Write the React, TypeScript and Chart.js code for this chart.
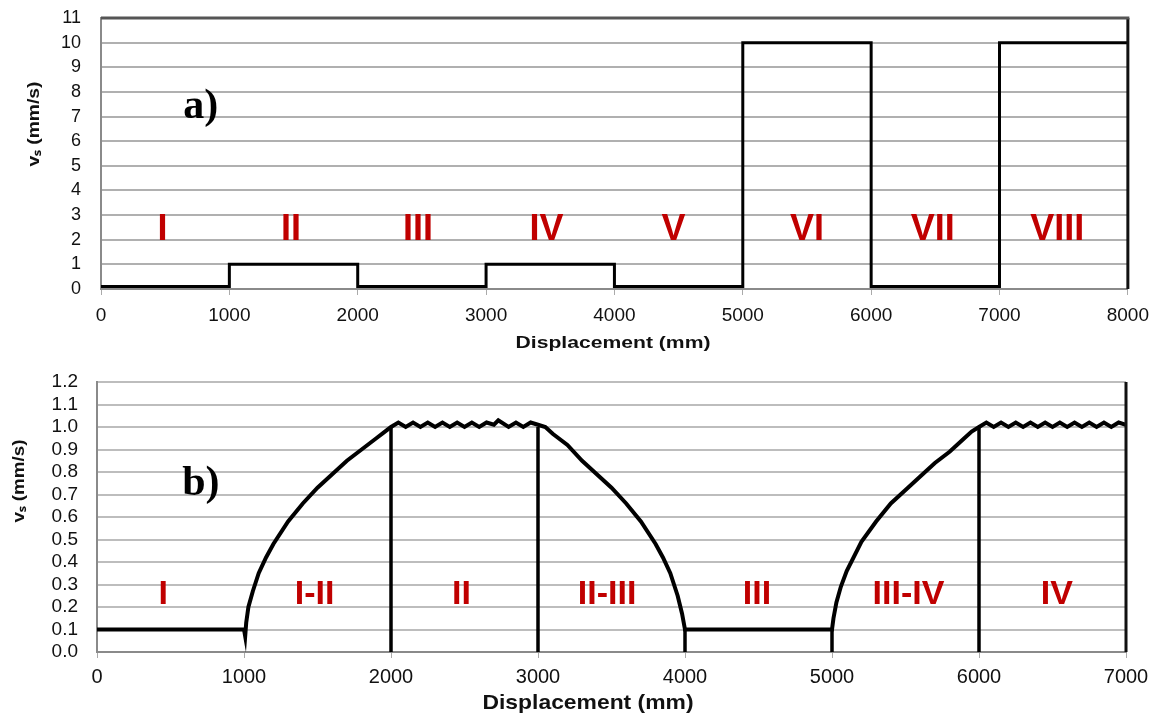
import React, { useEffect, useRef } from "react";
import { Chart, registerables } from "chart.js";
Chart.register(...registerables);

// ---------- Chart a) data ----------
const aEdges = [0, 1000, 2000, 3000, 4000, 5000, 6000, 7000, 8000];
const aLevels = [0.1, 1, 0.1, 1, 0.1, 10, 0.1, 10];
const aRegionLabels = ["I", "II", "III", "IV", "V", "VI", "VII", "VIII"];
const aRegionLabelX = [480, 1480, 2470, 3470, 4460, 5500, 6480, 7450];
const aRegionLabelY = 2.0;
const aPanelTag = "a)";
const aPanelTagX = 640;
const aPanelTagY = 6.95;

// ---------- Chart b) data ----------
const bX = [
  0, 500, 1000, 1008, 1015, 1030, 1060, 1100, 1150, 1200, 1300, 1400, 1500, 1600, 1700, 1800, 1900, 1950, 2000,
  2050, 2100, 2150, 2200, 2250, 2300, 2350, 2400, 2450, 2500, 2550, 2600, 2650, 2700, 2730, 2800, 2850, 2900, 2950, 3000,
  3050, 3100, 3200, 3300, 3400, 3500, 3600, 3700, 3800, 3850, 3900, 3950, 3980, 4000,
  4500, 5000, 5010, 5030, 5060, 5100, 5200, 5300, 5400, 5500, 5600, 5700, 5800, 5900, 5950, 6000,
  6050, 6100, 6150, 6200, 6250, 6300, 6350, 6400, 6450, 6500, 6550, 6600, 6650, 6700, 6750, 6800, 6850, 6900, 6950, 7000,
];
const bY = [
  0.1, 0.1, 0.1, 0.07, 0.13, 0.2, 0.27, 0.35, 0.42, 0.48, 0.58, 0.66, 0.73, 0.79, 0.85, 0.9, 0.95, 0.975, 1.0,
  1.02, 1.0, 1.02, 1.0, 1.02, 1.0, 1.02, 1.0, 1.02, 1.0, 1.02, 1.0, 1.02, 1.01, 1.03, 1.0, 1.02, 1.0, 1.02, 1.01,
  1.0, 0.97, 0.92, 0.85, 0.79, 0.73, 0.66, 0.58, 0.48, 0.42, 0.35, 0.25, 0.17, 0.1,
  0.1, 0.1, 0.15, 0.22, 0.29, 0.36, 0.49, 0.58, 0.66, 0.72, 0.78, 0.84, 0.89, 0.95, 0.98, 1.0,
  1.02, 1.0, 1.02, 1.0, 1.02, 1.0, 1.02, 1.0, 1.02, 1.0, 1.02, 1.0, 1.02, 1.0, 1.02, 1.0, 1.02, 1.0, 1.02, 1.01,
];
const bBoundaryX = [2000, 3000, 4000, 5000, 6000];
const bBoundaryTop = [1.0, 1.0, 0.1, 0.1, 1.0];
const bRegionLabels = ["I", "I-II", "II", "II-III", "III", "III-IV", "IV"];
const bRegionLabelX = [450, 1480, 2480, 3470, 4490, 5520, 6530];
const bRegionLabelY = 0.215;
const bPanelTag = "b)";
const bPanelTagX = 580;
const bPanelTagY = 0.7;

const xTitle = "Displacement (mm)";
const yTitle = "vₛ (mm/s)";

const SANS = "'Liberation Sans', Arial, Helvetica, sans-serif";
const SERIF = "'Liberation Serif', 'Times New Roman', serif";

function drawStretched(ctx: CanvasRenderingContext2D, text: string, cx: number, cy: number, font: string, targetW: number, rotate: boolean) {
  ctx.save();
  ctx.font = font;
  const w = ctx.measureText(text).width;
  const sx = targetW / w;
  ctx.translate(cx, cy);
  if (rotate) ctx.rotate(-Math.PI / 2);
  ctx.scale(sx, 1);
  ctx.fillStyle = "#111";
  ctx.textAlign = "center";
  ctx.textBaseline = "middle";
  ctx.fillText(text, 0, 0);
  ctx.restore();
}

function makeDecor(opts: {
  labels: string[]; labelX: number[]; labelY: number; labelFont: string;
  tag: string; tagX: number; tagY: number; tagFont: string;
  xTitleFont: string; xTitleW: number; xTitleCx: number; xTitleCy: number;
  yTitleFont: string; yTitleW: number; yTitleCx: number; yTitleCy: number;
  frameTop: boolean;
}) {
  return {
    id: "decor" + opts.tag,
    afterDatasetsDraw(chart: any) {
      const ctx = chart.ctx as CanvasRenderingContext2D;
      const xs = chart.scales.x;
      const ys = chart.scales.y;
      const area = chart.chartArea;
      ctx.save();
      ctx.strokeStyle = "#111";
      ctx.lineWidth = 3;
      ctx.beginPath();
      ctx.moveTo(area.right, area.top);
      ctx.lineTo(area.right, area.bottom);
      ctx.stroke();
      if (opts.frameTop) {
        ctx.strokeStyle = "#555";
        ctx.lineWidth = 3;
        ctx.beginPath();
        ctx.moveTo(area.left, area.top);
        ctx.lineTo(area.right + 1.5, area.top);
        ctx.stroke();
      }
      ctx.fillStyle = "#C00000";
      ctx.font = opts.labelFont;
      ctx.textAlign = "center";
      ctx.textBaseline = "alphabetic";
      opts.labels.forEach((t, i) => {
        ctx.fillText(t, xs.getPixelForValue(opts.labelX[i]), ys.getPixelForValue(opts.labelY));
      });
      ctx.fillStyle = "#000";
      ctx.font = opts.tagFont;
      ctx.textAlign = "left";
      ctx.fillText(opts.tag, xs.getPixelForValue(opts.tagX), ys.getPixelForValue(opts.tagY));
      ctx.restore();
      drawStretched(ctx, xTitle, opts.xTitleCx, opts.xTitleCy, opts.xTitleFont, opts.xTitleW, false);
      drawStretched(ctx, yTitle, opts.yTitleCx, opts.yTitleCy, opts.yTitleFont, opts.yTitleW, true);
    },
  };
}

const plainNum = (v: any) => String(Math.round(Number(v)));

function ChartA() {
  const ref = useRef<HTMLCanvasElement>(null);
  useEffect(() => {
    const pts: { x: number; y: number }[] = [];
    aLevels.forEach((lv, i) => {
      pts.push({ x: aEdges[i], y: lv });
      pts.push({ x: aEdges[i + 1], y: lv });
    });
    const chart = new Chart(ref.current!, {
      type: "scatter",
      data: {
        datasets: [
          { data: pts, showLine: true, borderColor: "#000", borderWidth: 3, pointRadius: 0, tension: 0 } as any,
        ],
      },
      options: {
        responsive: false,
        devicePixelRatio: 1,
        animation: false,
        layout: { padding: { top: 18, right: 30, left: 0, bottom: 0 } },
        plugins: { legend: { display: false }, tooltip: { enabled: false } },
        scales: {
          x: {
            type: "linear", min: 0, max: 8000,
            ticks: { stepSize: 1000, font: { family: SANS, size: 19 }, color: "#111", padding: 9, maxRotation: 0, autoSkip: false, callback: plainNum },
            grid: { drawOnChartArea: false, drawTicks: true, tickLength: 6, tickColor: "#aaa", lineWidth: 1 },
            border: { color: "#8a8a8a", width: 2 },
            afterFit: (s: any) => { s.height = 71; },
          },
          y: {
            min: 0, max: 11,
            ticks: { stepSize: 1, font: { family: SANS, size: 18 }, color: "#111", padding: 20, autoSkip: false, callback: plainNum },
            grid: { color: "#b0b0b0", lineWidth: 2, drawTicks: false },
            border: { color: "#8a8a8a", width: 2 },
            afterFit: (s: any) => { s.width = 101; s.paddingTop = 0; s.paddingBottom = 0; },
          },
        },
      } as any,
      plugins: [
        makeDecor({
          labels: aRegionLabels, labelX: aRegionLabelX, labelY: aRegionLabelY,
          labelFont: `bold 36px ${SANS}`,
          tag: aPanelTag, tagX: aPanelTagX, tagY: aPanelTagY, tagFont: `bold 42px ${SERIF}`,
          xTitleFont: `bold 17px ${SANS}`, xTitleW: 195, xTitleCx: 613, xTitleCy: 343,
          yTitleFont: `bold 17px ${SANS}`, yTitleW: 85, yTitleCx: 34, yTitleCy: 124,
          frameTop: true,
        }),
      ],
    });
    return () => chart.destroy();
  }, []);
  return <canvas ref={ref} width={1158} height={360} style={{ display: "block" }} />;
}

function ChartB() {
  const ref = useRef<HTMLCanvasElement>(null);
  useEffect(() => {
    const main = bX.map((x, i) => ({ x, y: bY[i] }));
    const bounds = bBoundaryX.map((x, i) => ({
      data: [{ x, y: 0 }, { x, y: bBoundaryTop[i] }],
      showLine: true, borderColor: "#000", borderWidth: 3.5, pointRadius: 0,
    }));
    const chart = new Chart(ref.current!, {
      type: "scatter",
      data: {
        datasets: [
          ...bounds,
          { data: main, showLine: true, borderColor: "#000", borderWidth: 4, pointRadius: 0, tension: 0 } as any,
        ] as any,
      },
      options: {
        responsive: false,
        devicePixelRatio: 1,
        animation: false,
        layout: { padding: { top: 22, right: 32, left: 0, bottom: 0 } },
        plugins: { legend: { display: false }, tooltip: { enabled: false } },
        scales: {
          x: {
            type: "linear", min: 0, max: 7000,
            ticks: { stepSize: 1000, font: { family: SANS, size: 20 }, color: "#111", padding: 7, maxRotation: 0, autoSkip: false, callback: plainNum },
            grid: { drawOnChartArea: false, drawTicks: true, tickLength: 6, tickColor: "#aaa", lineWidth: 1 },
            border: { color: "#8a8a8a", width: 2 },
            afterFit: (s: any) => { s.height = 66; },
          },
          y: {
            min: 0, max: 1.2,
            ticks: {
              stepSize: 0.1, font: { family: SANS, size: 19 }, color: "#111", padding: 19, autoSkip: false,
              callback: (v: any) => Number(v).toFixed(1),
            },
            grid: { color: "#bdbdbd", lineWidth: 2, drawTicks: false },
            border: { color: "#8a8a8a", width: 2 },
            afterFit: (s: any) => { s.width = 97; s.paddingTop = 0; s.paddingBottom = 0; },
          },
        },
      } as any,
      plugins: [
        makeDecor({
          labels: bRegionLabels, labelX: bRegionLabelX, labelY: bRegionLabelY,
          labelFont: `bold 34px ${SANS}`,
          tag: bPanelTag, tagX: bPanelTagX, tagY: bPanelTagY, tagFont: `bold 42px ${SERIF}`,
          xTitleFont: `bold 21px ${SANS}`, xTitleW: 211, xTitleCx: 588, xTitleCy: 343,
          yTitleFont: `bold 17px ${SANS}`, yTitleW: 83, yTitleCx: 19, yTitleCy: 121,
          frameTop: false,
        }),
      ],
    });
    return () => chart.destroy();
  }, []);
  return <canvas ref={ref} width={1158} height={358} style={{ display: "block" }} />;
}

export default function App() {
  return (
    <div style={{ position: "absolute", left: 0, top: 0, width: 1158, height: 718, background: "#fff" }}>
      <ChartA />
      <ChartB />
    </div>
  );
}
